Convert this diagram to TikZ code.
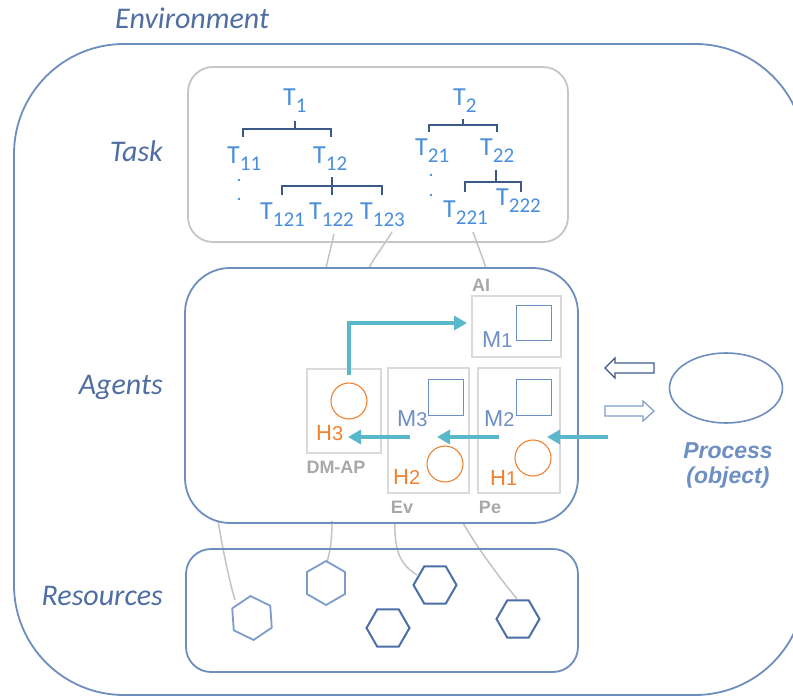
\documentclass[tikz,border=0pt]{standalone}
\usepackage{fontspec}
\setmainfont{Carlito}
\newfontfamily\arialf{Liberation Sans}
\usetikzlibrary{shapes.geometric,arrows.meta}
\definecolor{envblue}{HTML}{6D8EBE}
\definecolor{labblue}{HTML}{4F6EA3}
\definecolor{tblue}{HTML}{4A8FDB}
\definecolor{brk}{HTML}{3C5A88}
\definecolor{taskgray}{HTML}{C6C6C6}
\definecolor{boxgray}{HTML}{DADADA}
\definecolor{mblue}{HTML}{6E8FC4}
\definecolor{horange}{HTML}{F0822F}
\definecolor{lgray}{HTML}{A8A8A8}
\definecolor{flowteal}{HTML}{5AB7CC}
\definecolor{hexdark}{HTML}{4B6EA6}
\definecolor{hexlight}{HTML}{7C9DCB}
\definecolor{lineg}{HTML}{C4C4C4}
\newcommand{\Tlab}[1]{T\raisebox{-7pt}{\fontsize{21pt}{21pt}\selectfont #1}}
\newcommand{\Mlab}[1]{M{\fontsize{20pt}{20pt}\selectfont #1}}
\newcommand{\Hlab}[1]{H{\fontsize{20pt}{20pt}\selectfont #1}}
\tikzset{
  sectlabel/.style={inner sep=0pt, anchor=base east, text=labblue, font=\fontsize{30pt}{30pt}\selectfont\itshape},
  tlab/.style={inner sep=0pt, anchor=base west, text=tblue, font=\fontsize{26pt}{26pt}\selectfont},
  brack/.style={draw=brk, line width=1.3pt},
  tdot/.style={fill=tblue, circle, inner sep=0pt, minimum size=2.6pt},
  bigbox/.style={draw=envblue, line width=1.8pt, inner sep=0pt},
  smallbox/.style={draw=boxgray, line width=1.2pt, inner sep=0pt},
  msq/.style={draw=mblue, line width=1pt, inner sep=0pt},
  hcirc/.style={draw=horange, line width=1.1pt, circle, inner sep=0pt, minimum size=36pt},
  mtxt/.style={inner sep=0pt, anchor=base west, text=mblue, font=\arialf\fontsize{23pt}{23pt}\selectfont},
  htxt/.style={inner sep=0pt, anchor=base west, text=horange, font=\arialf\fontsize{22pt}{22pt}\selectfont},
  graylab/.style={inner sep=0pt, text=lgray, font=\arialf\bfseries\fontsize{18pt}{18pt}\selectfont},
  flow/.style={draw=flowteal, line width=4pt, -{Triangle[length=13pt,width=14pt]}},
  gline/.style={draw=lineg, line width=1.5pt},
  hexd/.style={regular polygon, regular polygon sides=6, draw=hexdark, line width=2pt, inner sep=0pt, minimum size=43pt},
  hexl/.style={regular polygon, regular polygon sides=6, draw=hexlight, line width=1.8pt, inner sep=0pt, minimum size=44pt},
}
\begin{document}
\begin{tikzpicture}[x=1pt,y=-1pt]
\useasboundingbox (0,0) rectangle (793,696);
\clip (0,0) rectangle (793,696);
\fill[white] (0,0) rectangle (793,696);

% environment
\node[bigbox, rounded corners=110pt, minimum width=791pt, minimum height=651pt] (env) at (409.5,369.5) {};
\node[inner sep=0pt, anchor=base west, text=labblue, font=\fontsize{30pt}{30pt}\selectfont\itshape] (envlab) at (115,28) {Environment};

% section labels
\node[sectlabel] (tasklab) at (163,161) {Task};
\node[sectlabel] (agentslab) at (163,394) {Agents};
\node[sectlabel] (reslab) at (163,605) {Resources};

% connector lines (behind)
\coordinate (ta1) at (334,234); \coordinate (tb1) at (326,268);
\coordinate (ta2) at (392,232); \coordinate (tb2) at (369,268);
\coordinate (ta3) at (473,232); \coordinate (tb3) at (486,268);
\draw[gline] (ta1) -- (tb1);
\draw[gline] (ta2) .. controls (382,248) and (374,258) .. (tb2);
\draw[gline] (ta3) .. controls (478,246) and (482,256) .. (tb3);

\coordinate (ra1) at (218,521); \coordinate (rb1) at (235,600);
\coordinate (ra2) at (332,521); \coordinate (rb2) at (327,562);
\coordinate (ra3) at (395,523); \coordinate (rb3) at (417,575);
\coordinate (ra4) at (463,523); \coordinate (rb4) at (517,599);
\draw[gline] (ra1) .. controls (223,550) and (229,580) .. (rb1);
\draw[gline] (ra2) .. controls (332,540) and (330,552) .. (rb2);
\draw[gline] (ra3) .. controls (394,555) and (403,566) .. (rb3);
\draw[gline] (ra4) .. controls (480,552) and (500,578) .. (rb4);

% task box
\node[draw=taskgray, line width=1.8pt, inner sep=0pt, rounded corners=25pt, minimum width=380pt, minimum height=175pt] (task) at (378,154.5) {};

\node[tlab] (t1) at (283,105) {\Tlab{1}};
\node[tlab] (t11) at (227,163) {\Tlab{11}};
\node[tlab] (t12) at (313,163) {\Tlab{12}};
\node[tlab] (t121) at (260,219) {\Tlab{121}};
\node[tlab] (t122) at (309,219) {\Tlab{122}};
\node[tlab] (t123) at (360,219) {\Tlab{123}};
\node[tlab] (t2) at (453,105) {\Tlab{2}};
\node[tlab] (t21) at (415,155) {\Tlab{21}};
\node[tlab] (t22) at (480,155) {\Tlab{22}};
\node[tlab] (t221) at (443,217) {\Tlab{221}};
\node[tlab] (t222) at (496,205) {\Tlab{222}};

\draw[brack] (295,121) -- (295,129);
\draw[brack] (243,137) -- (243,129) -- (331,129) -- (331,137);
\draw[brack] (332,177) -- (332,195);
\draw[brack] (282,195) -- (282,186) -- (382,186) -- (382,195);
\draw[brack] (463,119) -- (463,125);
\draw[brack] (429,132) -- (429,125) -- (497,125) -- (497,132);
\draw[brack] (496,170) -- (496,182);
\draw[brack] (465,192) -- (465,182) -- (521,182) -- (521,192);

\node[tdot] (d1) at (239,180) {};
\node[tdot] (d2) at (239,199) {};
\node[tdot] (d3) at (431,175) {};
\node[tdot] (d4) at (431,195) {};

% agents box
\node[bigbox, rounded corners=45pt, minimum width=393pt, minimum height=255pt] (agents) at (381.5,395.5) {};

\node[smallbox, minimum width=89pt, minimum height=61pt] (aibox) at (516.5,326.5) {};
\node[smallbox, minimum width=74pt, minimum height=84pt] (dmbox) at (344,411) {};
\node[smallbox, minimum width=81pt, minimum height=125pt] (evbox) at (428.5,430.5) {};
\node[smallbox, minimum width=82pt, minimum height=125pt] (pebox) at (519,430.5) {};

\node[graylab] (ailab) at (481,285) {AI};
\node[graylab] (dmlab) at (336,467) {DM-AP};
\node[graylab] (evlab) at (402,507) {Ev};
\node[graylab] (pelab) at (490,507) {Pe};

\node[msq, minimum width=35pt, minimum height=35pt] (m1sq) at (533.5,322.5) {};
\node[msq, minimum width=35pt, minimum height=36pt] (m3sq) at (445.5,397) {};
\node[msq, minimum width=35pt, minimum height=36pt] (m2sq) at (533.5,397) {};

\node[mtxt] (m1) at (482,347) {\Mlab{1}};
\node[mtxt] (m3) at (397,426) {\Mlab{3}};
\node[mtxt] (m2) at (484,426) {\Mlab{2}};

\node[hcirc] (h3c) at (349,401) {};
\node[hcirc] (h2c) at (445,464) {};
\node[hcirc] (h1c) at (533,458) {};

\node[htxt] (h3) at (316,440) {\Hlab{3}};
\node[htxt] (h2) at (393,484) {\Hlab{2}};
\node[htxt] (h1) at (490,485) {\Hlab{1}};

% flow arrows
\coordinate (f1a) at (349,375); \coordinate (f1b) at (467,323);
\coordinate (f2a) at (410,437); \coordinate (f2b) at (348,437);
\coordinate (f3a) at (499,437); \coordinate (f3b) at (437,437);
\coordinate (f4a) at (608,437); \coordinate (f4b) at (547,437);
\draw[flow] (f1a) |- (f1b);
\draw[flow] (f2a) -- (f2b);
\draw[flow] (f3a) -- (f3b);
\draw[flow] (f4a) -- (f4b);

% process
\node[ellipse, draw=envblue, line width=1.6pt, minimum width=113pt, minimum height=70pt, inner sep=0pt] (proc) at (726,388) {};
\node[inner sep=0pt, anchor=base, text=mblue, font=\arialf\bfseries\itshape\fontsize{23pt}{23pt}\selectfont] (proclab) at (728,458) {Process};
\node[inner sep=0pt, anchor=base, text=mblue, font=\arialf\bfseries\itshape\fontsize{23pt}{23pt}\selectfont] (objlab) at (728,483) {(object)};
\draw[draw=brk, line width=1.2pt, line join=miter, fill=white] (605,368) -- (615,358) -- (615,363) -- (654,363) -- (654,373) -- (615,373) -- (615,378) -- cycle;
\draw[draw=hexlight, line width=1.2pt, line join=miter, fill=white] (605,406) -- (643,406) -- (643,401) -- (654,411) -- (643,421) -- (643,416) -- (605,416) -- cycle;

% resources
\node[bigbox, rounded corners=25pt, minimum width=392pt, minimum height=123pt] (res) at (382,610.5) {};
\node[hexl, shape border rotate=34] (hex1) at (252,618) {};
\node[hexl, shape border rotate=30] (hex2) at (326,583) {};
\node[hexd] (hex3) at (435,585) {};
\node[hexd] (hex4) at (388,628) {};
\node[hexd] (hex5) at (518,619) {};
\end{tikzpicture}
\end{document}
